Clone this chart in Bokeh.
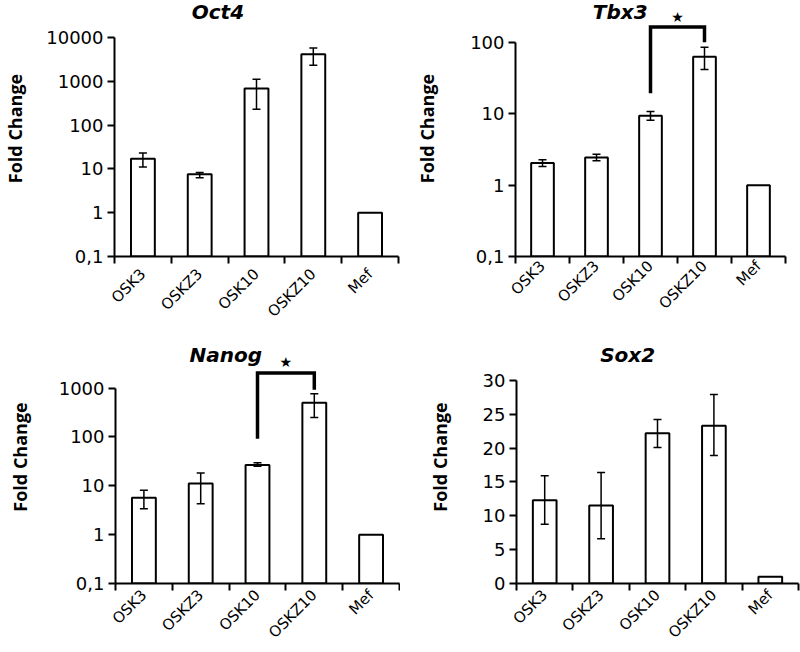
import math
from bokeh.plotting import figure
from bokeh.models import (Range1d, LogAxis, LinearAxis, FixedTicker,
                          CustomJSTickFormatter, Whisker, TeeHead,
                          ColumnDataSource, Label)
from bokeh.layouts import column, row
from bokeh.embed import file_html
from bokeh.resources import INLINE

# ---------------- data ----------------
categories = ["OSK3", "OSKZ3", "OSK10", "OSKZ10", "Mef"]
err_categories = ["OSK3", "OSKZ3", "OSK10", "OSKZ10"]

oct4_mean = [17, 7.5, 680, 4100, 1]
oct4_low = [11, 6.3, 230, 2300]
oct4_high = [23, 8.2, 1100, 5700]

tbx3_mean = [2.05, 2.45, 9.4, 63, 1]
tbx3_low = [1.83, 2.2, 8.1, 42]
tbx3_high = [2.27, 2.72, 10.8, 86]

nanog_mean = [5.7, 11.1, 26.6, 500, 1]
nanog_low = [3.4, 4.3, 25.1, 250]
nanog_high = [8.1, 18.3, 29.5, 770]

sox2_mean = [12.3, 11.5, 22.2, 23.3, 1]
sox2_low = [8.75, 6.6, 20.1, 18.9]
sox2_high = [15.9, 16.4, 24.2, 27.9]

log_ticks = [0.1, 1, 10, 100, 1000, 10000]
sox2_ticks = [0, 5, 10, 15, 20, 25, 30]

bracket_pair = ["OSK10", "OSK10", "OSKZ10", "OSKZ10"]
tbx3_bracket = [19.4, 165, 165, 101]
nanog_bracket = [92, 2030, 2030, 930]

TICK_FONT = "DejaVu Sans"


def pos(names):
    # category slot centre on the numeric axis (slot i spans i..i+1)
    return [categories.index(n) + 0.5 for n in names]


def panel(title, mean, low, high, log, yr, axis_bounds, ticks, w, h,
          left, right, top, bottom, label_standoff, title_x, title_y,
          cat_standoff, bracket=None, star_y=None):
    p = figure(width=w, height=h, x_range=Range1d(0, len(categories)),
               y_range=Range1d(*yr), y_axis_type="log" if log else "linear",
               x_axis_location=None, y_axis_location=None,
               output_backend="svg", toolbar_location=None,
               min_border_left=left, min_border_right=right,
               min_border_top=top, min_border_bottom=bottom)
    p.grid.grid_line_color = None
    p.outline_line_color = None
    p.background_fill_color = "white"

    base = yr[0]
    p.vbar(x=pos(categories), top=mean, bottom=base, width=0.42,
           fill_color="white", line_color="black", line_width=2)

    src = ColumnDataSource(dict(x=pos(err_categories), lo=low, hi=high))
    wk = Whisker(source=src, base="x", lower="lo", upper="hi",
                 line_color="black", line_width=1.5, level="annotation")
    wk.upper_head = TeeHead(size=8, line_color="black", line_width=1.5)
    wk.lower_head = TeeHead(size=8, line_color="black", line_width=1.5)
    p.add_layout(wk)

    if bracket is not None:
        bx = pos(bracket_pair)
        p.line(x=bx, y=bracket, line_color="black", line_width=3.5,
               line_join="miter")
        p.add_layout(Label(x=(bx[0] + bx[-1]) / 2, y=star_y, text="★",
                           text_font=TICK_FONT, text_font_size="14px",
                           text_align="center", text_baseline="middle",
                           text_color="black"))

    p.add_layout(Label(x=title_x, y=title_y, text=title,
                       text_font="DejaVu Sans", text_font_style="bold italic",
                       text_font_size="20px", text_align="center",
                       text_baseline="middle", text_color="black"))

    if log:
        yax = LogAxis(ticker=FixedTicker(ticks=ticks),
                      formatter=CustomJSTickFormatter(
                          code="if (tick < 0.5) { return '0,1'; } return String(Math.round(tick));"))
    else:
        yax = LinearAxis(ticker=FixedTicker(ticks=ticks))
    yax.bounds = axis_bounds
    yax.axis_label = "Fold Change"
    yax.axis_label_text_font = "Open Sans"
    yax.axis_label_text_font_style = "bold"
    yax.axis_label_text_font_size = "18px"
    yax.axis_label_text_color = "black"
    yax.axis_label_standoff = label_standoff
    yax.major_label_text_font = TICK_FONT
    yax.major_label_text_font_size = "18px"
    yax.major_label_text_color = "black"
    yax.major_label_standoff = 4
    yax.axis_line_width = 2
    yax.axis_line_color = "black"
    yax.major_tick_line_width = 2
    yax.major_tick_line_color = "black"
    yax.major_tick_in = 0
    yax.major_tick_out = 7
    yax.minor_tick_line_color = None
    p.add_layout(yax, "left")

    # x axis: names at slot centres (major), ticks at slot boundaries (minor)
    xax = LinearAxis(ticker=FixedTicker(ticks=pos(categories),
                                        minor_ticks=list(range(len(categories) + 1))),
                     formatter=CustomJSTickFormatter(
                         args=dict(names=categories),
                         code="return names[Math.floor(tick)];"))
    xax.axis_line_width = 2
    xax.axis_line_color = "black"
    xax.major_tick_line_color = None
    xax.major_tick_in = 0
    xax.major_tick_out = 0
    xax.minor_tick_line_width = 2
    xax.minor_tick_line_color = "black"
    xax.minor_tick_in = 0
    xax.minor_tick_out = 7
    xax.major_label_orientation = math.pi / 4
    xax.major_label_text_font = TICK_FONT
    xax.major_label_text_font_size = "15px"
    xax.major_label_text_color = "black"
    xax.major_label_standoff = cat_standoff
    p.add_layout(xax, "below")
    return p


p1 = panel("Oct4", oct4_mean, oct4_low, oct4_high, True,
           (0.1, 10 ** (-1 + 257 / 44)), (0.1, 10000), log_ticks,
           400, 330, 113, 2, 0, 73, 16, 1.82, 10 ** (-1 + 245 / 44), 8)

p2 = panel("Tbx3", tbx3_mean, tbx3_low, tbx3_high, True,
           (0.1, 10 ** (-1 + 262 / 73)), (0.1, 100), log_ticks[:4],
           400, 330, 115, 15, 0, 68, 28, 1.94, 10 ** (-1 + 250 / 73), 0,
           bracket=tbx3_bracket, star_y=10 ** (-1 + 245 / 73))

p3 = panel("Nanog", nanog_mean, nanog_low, nanog_high, True,
           (0.1, 10 ** (-1 + 253.3 / 48.9)), (0.1, 1000), log_ticks[:5],
           400, 322, 115, 1, 0, 69, 24, 1.94, 10 ** (-1 + 228.3 / 48.9), 2,
           bracket=nanog_bracket, star_y=10 ** (-1 + 221.3 / 48.9))

p4 = panel("Sox2", sox2_mean, sox2_low, sox2_high, False,
           (0, 253.3 / 6.78), (0, 30), sox2_ticks,
           400, 322, 116, 2, 0, 69, 28, 1.97, 228.3 / 6.78, 2)

layout = column(row(p1, p2), row(p3, p4))
open("out.html", "w").write(file_html(layout, INLINE))
